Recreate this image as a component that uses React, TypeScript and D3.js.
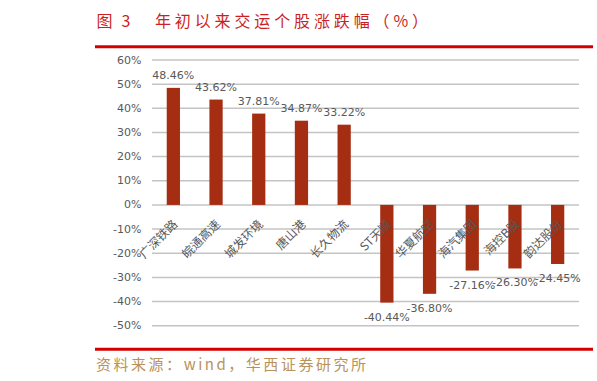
import React from "react";
import * as d3 from "d3";

const categories = ["广深铁路", "皖通高速", "城发环境", "唐山港", "长久物流", "ST天顺", "华夏航空", "海汽集团", "海控B股", "韵达股份"];
const values = [48.46, 43.62, 37.81, 34.87, 33.22, -40.44, -36.8, -27.16, -26.3, -24.45];
const yTicks = [60, 50, 40, 30, 20, 10, 0, -10, -20, -30, -40, -50];
const titleLeft = "图 3";
const titleRight = "年初以来交运个股涨跌幅（%）";
const sourceText = "资料来源：wind，华西证券研究所";

const W = 597;
const H = 381;

export default function App() {
  const x = d3.scaleBand<string>().domain(categories).range([152, 579]).paddingInner(0).paddingOuter(0);
  const y = d3.scaleLinear().domain([-50, 60]).range([325.7, 60]);
  const barW = x.bandwidth() * 0.31;
  const y0 = y(0);
  const fmt = (v: number) => v.toFixed(2) + "%";
  const numFont = "'DejaVu Sans', sans-serif";
  const cjkFont = "'Noto Sans CJK SC', sans-serif";

  return (
    <svg width={W} height={H} style={{ position: "absolute", left: 0, top: 0, background: "#fff" }}>
      <text x={96.5} y={20} dominantBaseline="central" fontFamily={cjkFont} fontSize={16} fill="#cc1f24" textLength={34} lengthAdjust="spacing">{titleLeft}</text>
      <text x={155} y={20} dominantBaseline="central" fontFamily={cjkFont} fontSize={16} fill="#cc1f24" textLength={273} lengthAdjust="spacing">{titleRight}</text>
      <line x1={95} x2={593} y1={46.7} y2={46.7} stroke="#d40000" strokeWidth={3} />

      {yTicks.map((t) => (
        <g key={t}>
          <line x1={152} x2={579} y1={y(t)} y2={y(t)} stroke="#c4c4c4" strokeWidth={1.5} />
          <text x={141.5} y={y(t)} dominantBaseline="central" textAnchor="end" fontFamily={numFont} fontSize={11} fill="#595959">{t + "%"}</text>
        </g>
      ))}

      {categories.map((c, i) => {
        const v = values[i];
        const cx = (x(c) as number) + x.bandwidth() / 2;
        const top = Math.min(y(v), y0);
        const h = Math.abs(y(v) - y0);
        return (
          <g key={c}>
            <rect x={cx - barW / 2} y={top} width={barW} height={h} fill="#a52d12" />
            <text
              x={cx}
              y={v >= 0 ? y(v) - 9 : y(v) + 18}
              textAnchor="middle"
              fontFamily={numFont}
              fontSize={11}
              fill="#595959"
            >
              {fmt(v)}
            </text>
            <text
              transform={`translate(${cx + 5},${y0 + 20}) rotate(-45)`}
              textAnchor="end"
              fontFamily={cjkFont}
              fontSize={12}
              fill="#595959"
            >
              {c}
            </text>
          </g>
        );
      })}

      <line x1={95} x2={593} y1={349.3} y2={349.3} stroke="#d40000" strokeWidth={3} />
      <text x={96} y={363} dominantBaseline="central" fontFamily={cjkFont} fontSize={15} fill="#b8925a" textLength={270} lengthAdjust="spacing">{sourceText}</text>
    </svg>
  );
}
